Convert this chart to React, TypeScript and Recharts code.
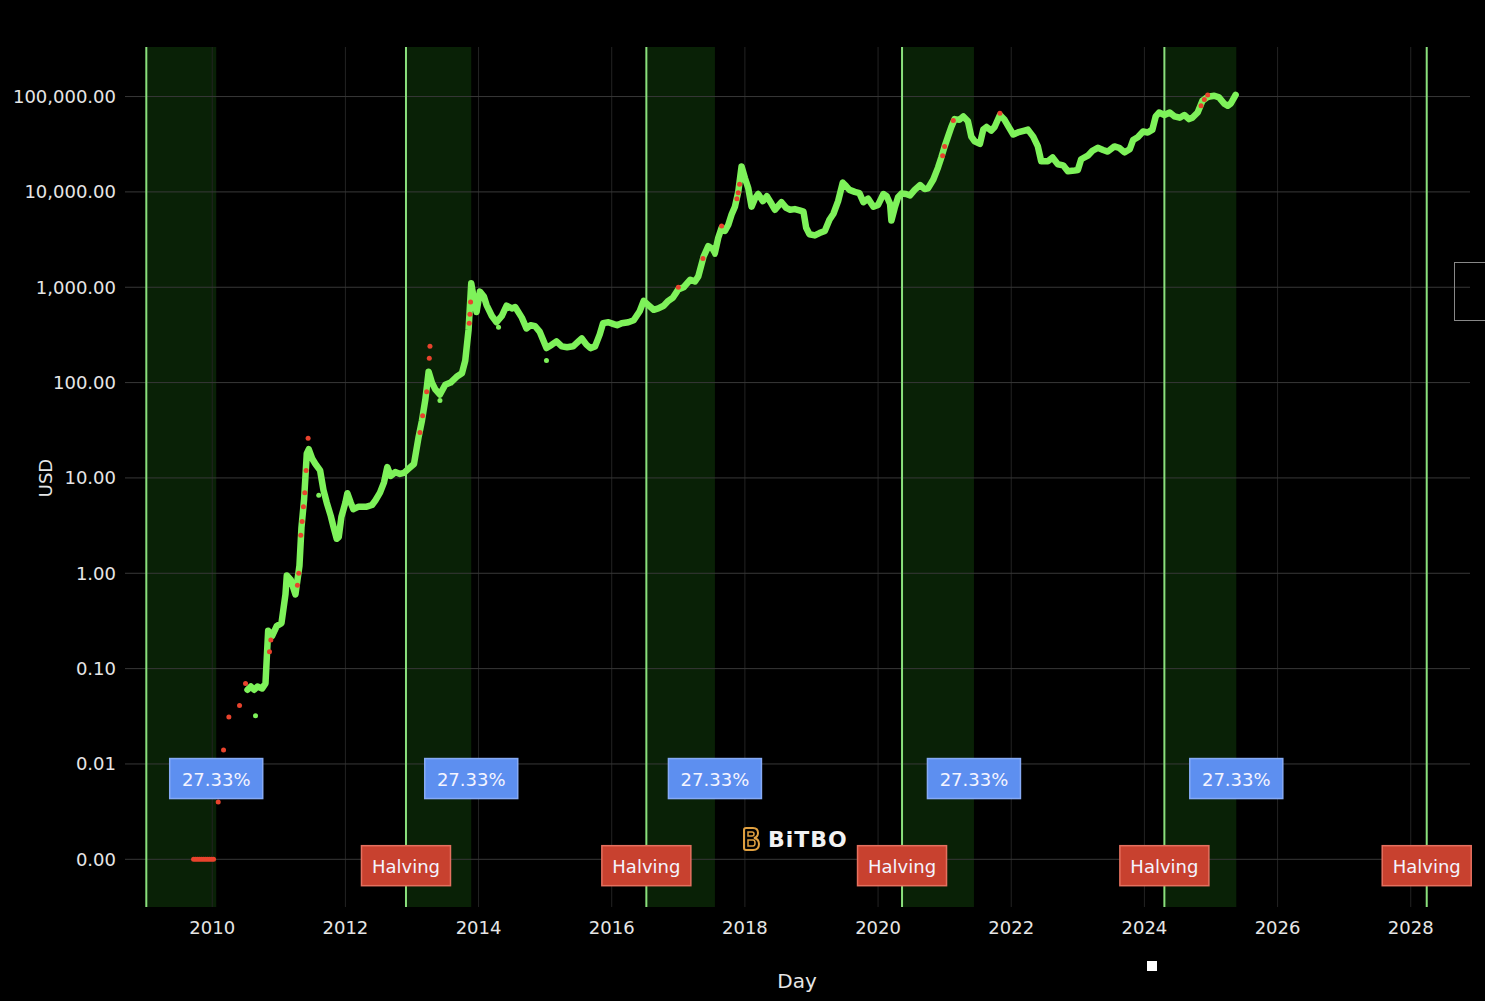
import React from 'react';
import {
  ComposedChart,
  Line,
  Scatter,
  XAxis,
  YAxis,
  ReferenceLine,
  ReferenceArea,
  ReferenceDot,
} from 'recharts';

// price path (year, usd)
const greenT = [
  2010.53, 2010.58, 2010.63, 2010.68, 2010.75, 2010.8, 2010.84, 2010.9, 2010.97, 2011.04,
  2011.1, 2011.12, 2011.18, 2011.25, 2011.31, 2011.34, 2011.38, 2011.42, 2011.45, 2011.5,
  2011.55, 2011.62, 2011.67, 2011.72, 2011.78, 2011.82, 2011.87, 2011.9, 2011.94, 2012.0,
  2012.03, 2012.08, 2012.12, 2012.2, 2012.32, 2012.4, 2012.45, 2012.52, 2012.58, 2012.63,
  2012.68, 2012.75, 2012.82, 2012.88, 2012.95, 2013.03, 2013.1, 2013.15, 2013.2, 2013.25,
  2013.3, 2013.35, 2013.42, 2013.5, 2013.58, 2013.67, 2013.75, 2013.8, 2013.85, 2013.89,
  2013.93, 2013.97, 2014.02, 2014.08, 2014.12, 2014.2, 2014.27, 2014.35, 2014.42, 2014.5,
  2014.55, 2014.65, 2014.72, 2014.78, 2014.85, 2014.92, 2015.02, 2015.1, 2015.17, 2015.25,
  2015.33, 2015.42, 2015.5, 2015.55, 2015.62, 2015.68, 2015.75, 2015.82, 2015.87, 2015.95,
  2016.03, 2016.08, 2016.15, 2016.25, 2016.33, 2016.42, 2016.48, 2016.55, 2016.63, 2016.7,
  2016.78, 2016.85, 2016.92, 2017.0, 2017.08, 2017.18, 2017.25, 2017.3, 2017.38, 2017.45,
  2017.52, 2017.55, 2017.6, 2017.65, 2017.7, 2017.75, 2017.8, 2017.85, 2017.9, 2017.95,
  2018.0, 2018.05, 2018.1, 2018.15, 2018.2, 2018.27, 2018.33, 2018.4, 2018.45, 2018.55,
  2018.62, 2018.68, 2018.75, 2018.82, 2018.88, 2018.92, 2018.97, 2019.05, 2019.12, 2019.2,
  2019.27, 2019.33, 2019.4, 2019.47, 2019.52, 2019.57, 2019.65, 2019.72, 2019.78, 2019.85,
  2019.93, 2020.0, 2020.08, 2020.13, 2020.18, 2020.2, 2020.25, 2020.3, 2020.35, 2020.42,
  2020.48, 2020.55, 2020.63, 2020.7, 2020.75, 2020.83, 2020.9, 2020.95, 2021.0, 2021.05,
  2021.1, 2021.15, 2021.22, 2021.28, 2021.35, 2021.4, 2021.45, 2021.53, 2021.58, 2021.63,
  2021.7, 2021.75, 2021.83, 2021.9, 2021.97, 2022.03, 2022.1, 2022.2, 2022.25, 2022.33,
  2022.4, 2022.45, 2022.55, 2022.62, 2022.7, 2022.78, 2022.85, 2022.95, 2023.0, 2023.05,
  2023.15, 2023.22, 2023.3, 2023.38, 2023.45, 2023.55, 2023.62, 2023.7, 2023.78, 2023.83,
  2023.9, 2023.98, 2024.05, 2024.12, 2024.17, 2024.22, 2024.3, 2024.38, 2024.45, 2024.53,
  2024.6, 2024.67, 2024.72, 2024.8, 2024.87, 2024.93, 2024.98, 2025.05, 2025.12, 2025.2,
  2025.25, 2025.3, 2025.37,
];
const greenP = [
  0.06, 0.065, 0.06, 0.065, 0.062, 0.07, 0.25, 0.22, 0.28, 0.3,
  0.6, 0.95, 0.85, 0.6, 1.2, 3, 6, 18, 20, 16,
  14, 12, 7.5, 5.5, 4, 3.1, 2.3, 2.4, 3.9, 5.5,
  6.9, 5.5, 4.7, 5, 5, 5.2, 5.8, 7, 9, 13,
  10.5, 11.5, 11, 11.3, 12.5, 14, 27, 40, 66, 130,
  100, 85, 75, 95, 100, 115, 125, 170, 360, 1100,
  750, 550, 900, 800, 650, 500, 430, 500, 640, 600,
  620, 480, 370, 400, 390, 340, 230, 250, 270, 240,
  235, 240, 270, 290, 250, 230, 240, 320, 420, 430,
  410, 400, 420, 430, 450, 560, 720, 650, 580, 600,
  640, 720, 780, 950, 1000, 1200, 1150, 1300, 2100, 2700,
  2500, 2300, 3300, 4200, 3900, 4500, 5800, 7000, 10000, 18500,
  14000, 11000, 7000, 8500, 9500, 8000, 9000, 7500, 6500, 7800,
  6800, 6500, 6600, 6400, 6200, 4200, 3600, 3500, 3700, 3900,
  5100, 5900, 8000, 12500, 11500, 10500, 10000, 9700, 7800, 8500,
  7000, 7300, 9500, 9000, 7500, 5000, 6800, 8800, 9600, 9500,
  9200, 10500, 11800, 10700, 10900, 13500, 18000, 23000, 30000, 38000,
  48000, 58000, 57000, 62000, 55000, 38000, 34000, 32000, 45000, 48000,
  44000, 48000, 64000, 57000, 47000, 40000, 42000, 44000, 45000, 38000,
  30000, 21000, 21000, 23000, 19500, 19000, 16500, 16800, 17000, 22000,
  24000, 27000, 29000, 27500, 26500, 30000, 29000, 26000, 28000, 35000,
  37500, 43000, 42000, 45000, 62000, 68000, 64000, 68000, 62000, 60000,
  64000, 58000, 60000, 68000, 90000, 97000, 100000, 102000, 98000, 84000,
  80000, 85000, 104000,
];

// red (overheated) days
const redT = [
  2009.72, 2009.75, 2009.78, 2009.81, 2009.84, 2009.87, 2009.9, 2009.93, 2009.96, 2009.99,
  2010.02, 2010.09, 2010.17, 2010.25, 2010.41, 2010.5, 2010.86, 2010.88, 2011.28, 2011.3,
  2011.33, 2011.35, 2011.37, 2011.39, 2011.41, 2011.44, 2013.12, 2013.16, 2013.22, 2013.26,
  2013.27, 2013.86, 2013.87, 2013.88, 2017.0, 2017.37, 2017.65, 2017.88, 2017.9, 2017.92,
  2020.97, 2021.0, 2021.13, 2021.83, 2024.85, 2024.9, 2024.95,
];
const redP = [
  0.001, 0.001, 0.001, 0.001, 0.001, 0.001, 0.001, 0.001, 0.001, 0.001,
  0.001, 0.004, 0.014, 0.031, 0.041, 0.07, 0.15, 0.2, 0.75, 1.0,
  2.5, 3.5, 5, 7, 12, 26, 30, 45, 80, 180,
  240, 420, 520, 700, 1000, 2000, 4400, 8500, 9800, 12000,
  24000, 30000, 56000, 67000, 80000, 93000, 104000,
];

// stray green days off the main path
const strayT = [2010.65, 2011.6, 2013.42, 2014.3, 2015.02, 2017.55];
const strayP = [0.032, 6.6, 65, 380, 170, 2200];

const halvings = [2009.01, 2012.91, 2016.52, 2020.36, 2024.3, 2028.24];
const zoneEnds = [2010.06, 2013.89, 2017.55, 2021.44, 2025.38];
const zoneLabel = '27.33%';
const halvingLabel = 'Halving';

const xTicks = [2010, 2012, 2014, 2016, 2018, 2020, 2022, 2024, 2026, 2028];
const yTicks = [0.001, 0.01, 0.1, 1, 10, 100, 1000, 10000, 100000];

const greenData = greenT.map((t, i) => ({ t, price: greenP[i] }));
const redData = redT.map((t, i) => ({ t, price: redP[i] }));
const strayData = strayT.map((t, i) => ({ t, price: strayP[i] }));

const FONT = '"DejaVu Sans", Verdana, sans-serif';
const GREEN = '#7ef25a';
const RED = '#e8432d';

const fmt = (v: number) =>
  v.toLocaleString('en-US', { minimumFractionDigits: 2, maximumFractionDigits: 2 });

const boxShape = (label: string, w: number, fill: string, border: string) => (props: any) => {
  const { cx, cy } = props;
  return (
    <g>
      <rect x={cx - w / 2} y={cy - 20} width={w} height={40} fill={fill} stroke={border} strokeWidth={1.5} />
      <text
        x={cx}
        y={cy + 1}
        textAnchor="middle"
        dominantBaseline="central"
        fill="#f4f4ff"
        fontSize={18}
        fontFamily={FONT}
      >
        {label}
      </text>
    </g>
  );
};

const dotShape = (color: string, r: number) => (props: any) =>
  <circle cx={props.cx} cy={props.cy} r={r} fill={color} />;

export default function App() {
  return (
    <div style={{ position: 'fixed', left: 0, top: 0, width: 1485, height: 1001, background: '#000', overflow: 'hidden' }}>
      <ComposedChart width={1485} height={1001} margin={{ top: 47, right: 15, left: 0, bottom: 0 }}>
        <XAxis
          type="number"
          dataKey="t"
          domain={[2008.69, 2028.89]}
          ticks={xTicks}
          allowDataOverflow
          height={94}
          axisLine={false}
          tickLine={false}
          tickSize={6}
          tickMargin={8}
          tick={{ fill: '#e6e6e6', fontSize: 18, fontFamily: FONT }}
        />
        <YAxis
          scale="log"
          domain={[0.000316, 331000]}
          ticks={yTicks}
          allowDataOverflow
          width={125}
          axisLine={false}
          tickLine={false}
          tickSize={6}
          tickMargin={3}
          tickFormatter={fmt}
          tick={{ fill: '#e6e6e6', fontSize: 18, fontFamily: FONT }}
        />
        {xTicks.map((t) => (
          <ReferenceLine key={`gx${t}`} x={t} stroke="#232323" strokeWidth={1} />
        ))}
        {yTicks.map((t) => (
          <ReferenceLine key={`gy${t}`} y={t} stroke="#383838" strokeWidth={1} />
        ))}
        {zoneEnds.map((end, i) => (
          <ReferenceArea key={`z${i}`} x1={halvings[i]} x2={end} fill="#0c2e08" fillOpacity={0.72} stroke="none" />
        ))}
        {halvings.map((h, i) => (
          <ReferenceLine key={`h${i}`} x={h} stroke="#8ae07c" strokeWidth={2} />
        ))}
        <Line
          data={greenData}
          dataKey="price"
          stroke={GREEN}
          strokeWidth={6.5}
          strokeLinejoin="round"
          strokeLinecap="round"
          dot={false}
          isAnimationActive={false}
        />
        <Scatter data={strayData} dataKey="price" shape={dotShape(GREEN, 2.5)} isAnimationActive={false} />
        <Scatter data={redData} dataKey="price" shape={dotShape(RED, 2.5)} isAnimationActive={false} />
        {zoneEnds.map((end, i) => (
          <ReferenceDot
            key={`zl${i}`}
            x={end}
            y={0.00703}
            ifOverflow="visible"
            shape={boxShape(zoneLabel, 93, '#5d8ff0', '#86aaf5')}
          />
        ))}
        {halvings.slice(1).map((h, i) => (
          <ReferenceDot
            key={`hl${i}`}
            x={h}
            y={0.000857}
            ifOverflow="visible"
            shape={boxShape(halvingLabel, 89, '#c8412f', '#e5705f')}
          />
        ))}
      </ComposedChart>

      <div
        style={{
          position: 'absolute', left: 45, top: 478, transform: 'translate(-50%, -50%) rotate(-90deg)',
          color: '#e6e6e6', fontFamily: FONT, fontSize: 18,
        }}
      >
        USD
      </div>
      <div
        style={{
          position: 'absolute', left: 797, top: 981, transform: 'translate(-50%, -50%)',
          color: '#e6e6e6', fontFamily: FONT, fontSize: 20,
        }}
      >
        Day
      </div>
      <div
        style={{
          position: 'absolute', left: 742, top: 826, display: 'flex', alignItems: 'center', gap: 8,
          fontFamily: FONT, fontWeight: 'bold', fontSize: 22, color: '#f2f2f2', letterSpacing: 1,
        }}
      >
        <svg width={18} height={26} viewBox="0 0 18 26">
          <path
            d="M4 2 L11 2 Q16 2 16 7 Q16 11 12 12 Q17 13 17 18 Q17 24 11 24 L4 24 Q2 24 2 22 L2 4 Q2 2 4 2 Z"
            fill="none" stroke="#e0a040" strokeWidth={2}
          />
          <path d="M6 6 L10 6 Q12 6 12 8 Q12 10 10 10 L6 10 Z M6 14 L11 14 Q13 14 13 17 Q13 20 11 20 L6 20 Z" fill="none" stroke="#e0a040" strokeWidth={1.5} />
        </svg>
        <span>BiTBO</span>
      </div>
      <div style={{ position: 'absolute', left: 1147, top: 961, width: 10, height: 10, background: '#fff' }} />
      <div style={{ position: 'absolute', left: 1454, top: 262, width: 40, height: 57, border: '1px solid #888' }} />
    </div>
  );
}
